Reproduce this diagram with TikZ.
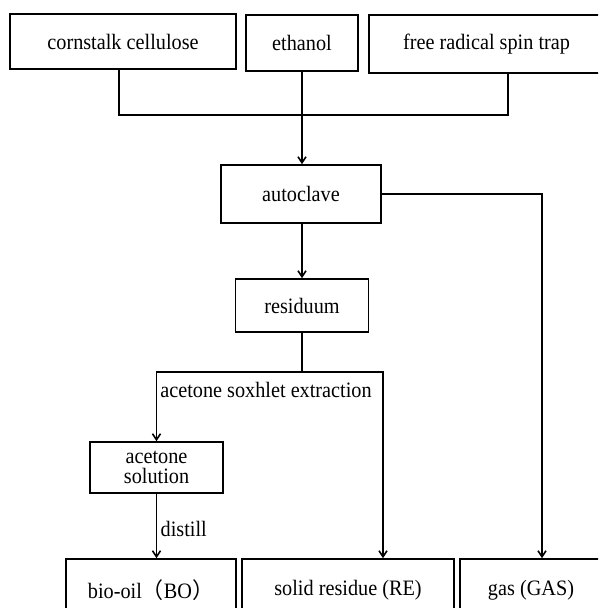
\documentclass[tikz,border=0pt]{standalone}
\usepackage{fontspec}
\setmainfont{Liberation Serif}[FakeStretch=0.92]
\newfontfamily\cjk{Noto Sans CJK SC}
\usetikzlibrary{arrows.meta, positioning}

\begin{document}
\begin{tikzpicture}[
          x=1pt, y=-1pt,
          font=\fontsize{22}{24}\selectfont,
          box/.style={rectangle, draw=black, line width=1.7pt, inner sep=0pt, align=center},
          arrow/.style={-{Straight Barb[length=6pt,width=8pt]}, line width=1.6pt},
          link/.style={line width=1.6pt}
        ]
          \clip (0,0) rectangle (598,608);

          % inputs
          \node (corn) [box, minimum width=226pt, minimum height=55pt] at (123,41.5) {cornstalk cellulose};
          \node (eth) [box, minimum width=112pt, minimum height=56pt] at (302,43) {ethanol};
          \node (trap) [box, minimum width=235pt, minimum height=58pt] at (486.5,44) {free radical spin trap};

          % process
          \node (auto) [box, minimum width=160pt, minimum height=58pt] at (301,194) {autoclave};
          \node (resid) [box, minimum width=133pt, minimum height=53pt] at (302,305.5) {residuum};
          \node (acet) [box, minimum width=133pt, minimum height=51pt, font=\fontsize{22}{20}\selectfont] at (156.5,467.5) {acetone\\solution};

          % products
          \node (bo) [box, minimum width=170pt, minimum height=62pt] at (151,590) {bio-oil{\cjk （}BO{\cjk ）}};
          \node (re) [box, minimum width=212pt, minimum height=62pt] at (348,590) {solid residue (RE)};
          \node (gas) [box, minimum width=142pt, minimum height=62pt] at (531,590) {gas (GAS)};

          \coordinate (join) at (302,115);
          \coordinate (fork) at (302,372);

          \draw [link] ([xshift=-4pt]corn.south) |- (join) -| ([xshift=21.5pt]trap.south);
          \draw [arrow] (eth.south) -- (eth.south |- auto.north);
          \draw [arrow] (auto.east) -| ([xshift=11pt]gas.north);
          \draw [arrow] (auto.south -| resid.north) -- (resid.north);
          \draw [link] (resid.south) -- (fork);
          \draw [arrow] (fork) -| (acet.north);
          \draw [arrow] (fork) -| ([xshift=35pt]re.north);
          \draw [arrow] (acet.south) -- node[right, pos=0.55] {distill} (acet.south |- bo.north);

          \node (soxhlet) at (266,390) {acetone soxhlet extraction};
        \end{tikzpicture}
\end{document}
